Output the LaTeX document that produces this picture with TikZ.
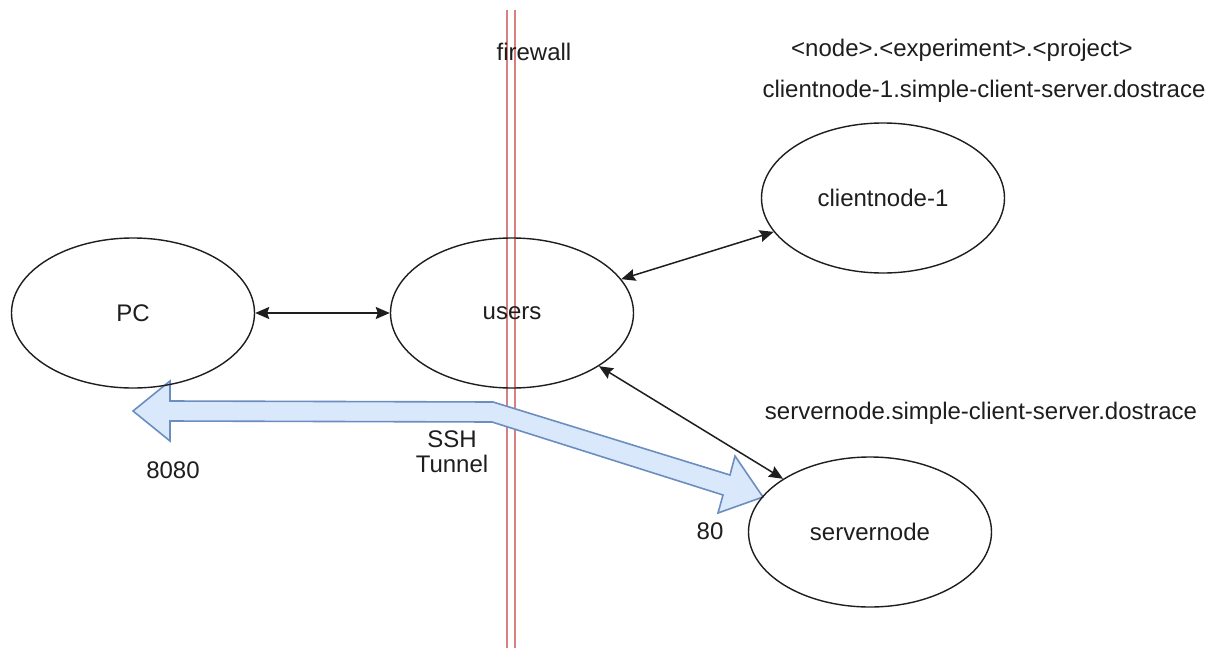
\documentclass[tikz,border=0pt]{standalone}
\usepackage{fontspec}
\setmainfont{Liberation Sans}
\usetikzlibrary{shapes.geometric,arrows.meta}
\definecolor{fwred}{RGB}{214,128,128}
\definecolor{tunfill}{RGB}{218,232,252}
\definecolor{tunline}{RGB}{108,142,191}
\definecolor{ink}{RGB}{30,30,30}
\tikzset{
  host/.style={ellipse, draw=ink, line width=1.4pt, minimum width=243pt, minimum height=150pt, text=ink, font=\fontsize{24}{28}\selectfont},
  lbl/.style={font=\fontsize{24}{28}\selectfont, text=ink, inner sep=0pt, align=center},
  link/.style={draw=ink, line width=1.5pt, {Stealth[length=14pt,width=12pt,inset=2pt]}-{Stealth[length=14pt,width=12pt,inset=2pt]}},
  fwline/.style={draw=fwred, line width=1.6pt},
  tunnel/.style={fill=tunfill, draw=tunline, line width=1.6pt, line join=miter}
}
\begin{document}
\begin{tikzpicture}[x=1pt, y=-1pt]
\useasboundingbox (0,0) rectangle (1213,648);
\fill[white] (0,0) rectangle (1213,648);

% firewall: two parallel red lines
\draw[fwline] (507,10) -- (507,648);
\draw[fwline] (515,10) -- (515,648);
\node[lbl] (fwlabel) at (534,52) {firewall};

% SSH tunnel block arrow
\coordinate (tA) at (133,411);
\coordinate (tB) at (170,381);
\coordinate (tC) at (170,401);
\coordinate (tD) at (493,402);
\coordinate (tE) at (730,475);
\coordinate (tF) at (735,456);
\coordinate (tG) at (763,497);
\coordinate (tH) at (718,513);
\coordinate (tI) at (723,495);
\coordinate (tJ) at (492,422);
\coordinate (tK) at (170,421);
\coordinate (tL) at (170,441);
\draw[tunnel] (tA) -- (tB) -- (tC) -- (tD) -- (tE) -- (tF) -- (tG) -- (tH) -- (tI) -- (tJ) -- (tK) -- (tL) -- cycle;

% hosts
\node[host] (pc) at (133,313) {PC};
\node[host] (users) at (512,313) {users};
\node[host] (client) at (883,198) {clientnode-1};
\node[host] (server) at (870,532) {servernode};

% links
\draw[link] (pc) -- (users);
\draw[link] (users) -- (client);
\draw[link] (users) -- (server);

% labels
\node[lbl] (naming) at (962,50) {<node>.<experiment>.<project>};
\node[lbl] (clientfq) at (984,91) {clientnode-1.simple-client-server.dostrace};
\node[lbl] (serverfq) at (981,413) {servernode.simple-client-server.dostrace};
\node[lbl] (ssh) at (452,452) {SSH\\[-3pt]Tunnel};
\node[lbl] (p8080) at (173,470) {8080};
\node[lbl] (p80) at (710,531) {80};
\end{tikzpicture}
\end{document}
